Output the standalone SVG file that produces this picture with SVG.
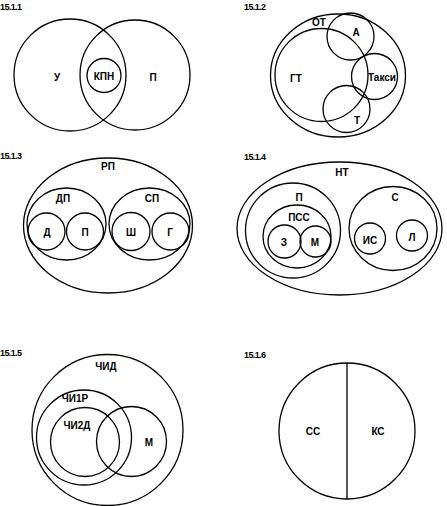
<svg xmlns="http://www.w3.org/2000/svg" width="447" height="506" viewBox="0 0 447 506">
<style>
.c{fill:none;stroke:#000;stroke-width:1.3}
.t{font-family:"Liberation Sans",Arial,sans-serif;font-weight:bold;font-size:10px;text-anchor:middle;dominant-baseline:central;fill:#000}
.h{font-family:"Liberation Sans",Arial,sans-serif;font-weight:bold;font-size:9px;letter-spacing:-0.6px;fill:#000}
</style>
<rect width="447" height="506" fill="#fff"/>
<g id="titles">
<text class="h" x="0" y="10">15.1.1</text>
<text class="h" x="244" y="10">15.1.2</text>
<text class="h" x="0" y="159">15.1.3</text>
<text class="h" x="244" y="160">15.1.4</text>
<text class="h" x="0" y="356">15.1.5</text>
<text class="h" x="244" y="358">15.1.6</text>
</g>
<g id="p1">
<g id="p1-u"><circle class="c" cx="70" cy="75" r="56"/><text class="t" x="57" y="77">У</text></g>
<g id="p1-p"><circle class="c" cx="135" cy="75" r="55"/><text class="t" x="153" y="77">П</text></g>
<g id="p1-kpn"><circle class="c" cx="104" cy="75.5" r="17"/><text class="t" x="104" y="76">КПН</text></g>
</g>
<g id="p2">
<g id="p2-ot"><ellipse class="c" cx="338" cy="75.5" rx="67.5" ry="61.5"/><text class="t" x="319" y="22">ОТ</text></g>
<g id="p2-gt"><circle class="c" cx="321.5" cy="75" r="46.5"/><text class="t" x="296" y="78">ГТ</text></g>
<g id="p2-a"><circle class="c" cx="350.5" cy="36.5" r="23.5"/><text class="t" x="356" y="32">А</text></g>
<g id="p2-taxi"><circle class="c" cx="374.5" cy="76.5" r="23"/><text class="t" x="382" y="77">Такси</text></g>
<g id="p2-t"><circle class="c" cx="346.5" cy="109" r="23.5"/><text class="t" x="357" y="120">Т</text></g>
</g>
<g id="p3">
<g id="p3-rp"><ellipse class="c" cx="108" cy="225.5" rx="84.5" ry="67.5"/><text class="t" x="108" y="166">РП</text></g>
<g id="p3-dp"><ellipse class="c" cx="66.5" cy="224" rx="39.5" ry="36"/><text class="t" x="63" y="198">ДП</text></g>
<g id="p3-sp"><ellipse class="c" cx="149.5" cy="224" rx="40.5" ry="36"/><text class="t" x="152" y="198">СП</text></g>
<g id="p3-d"><circle class="c" cx="46.5" cy="231.5" r="18.5"/><text class="t" x="47" y="232">Д</text></g>
<g id="p3-p"><circle class="c" cx="85" cy="231.5" r="18.5"/><text class="t" x="85" y="232">П</text></g>
<g id="p3-sh"><circle class="c" cx="131" cy="231.5" r="19"/><text class="t" x="131" y="232">Ш</text></g>
<g id="p3-g"><circle class="c" cx="170.5" cy="231.5" r="18.5"/><text class="t" x="170" y="232">Г</text></g>
</g>
<g id="p4">
<g id="p4-nt"><ellipse class="c" cx="339.5" cy="228.5" rx="102.5" ry="66.5"/><text class="t" x="342" y="172">НТ</text></g>
<g id="p4-p"><circle class="c" cx="293" cy="230.5" r="47.5"/><text class="t" x="299" y="197">П</text></g>
<g id="p4-pss"><ellipse class="c" cx="297" cy="236.5" rx="34" ry="31.5"/><text class="t" x="299" y="217">ПСС</text></g>
<g id="p4-z"><circle class="c" cx="284.5" cy="241.5" r="16.5"/><text class="t" x="284" y="242">З</text></g>
<g id="p4-m"><circle class="c" cx="315.5" cy="241.5" r="15.5"/><text class="t" x="315" y="242">М</text></g>
<g id="p4-s"><ellipse class="c" cx="393" cy="228.5" rx="44" ry="42"/><text class="t" x="395" y="197">С</text></g>
<g id="p4-is"><circle class="c" cx="370" cy="238.5" r="15.5"/><text class="t" x="370" y="240">ИС</text></g>
<g id="p4-l"><circle class="c" cx="412" cy="235.5" r="15.5"/><text class="t" x="412" y="237">Л</text></g>
</g>
<g id="p5">
<g id="p5-chid"><circle class="c" cx="107.5" cy="430" r="75.5"/><text class="t" x="106" y="366">ЧИД</text></g>
<g id="p5-chi1r"><circle class="c" cx="84" cy="437.5" r="47.5"/><text class="t" x="75" y="398">ЧИ1Р</text></g>
<g id="p5-chi2d"><circle class="c" cx="85" cy="442" r="34.5"/><text class="t" x="77" y="425">ЧИ2Д</text></g>
<g id="p5-m"><circle class="c" cx="131.5" cy="441.5" r="35"/><text class="t" x="149" y="442">М</text></g>
</g>
<g id="p6">
<circle class="c" cx="347" cy="431" r="68"/>
<g id="p6-ss"><text class="t" x="313" y="431">СС</text></g>
<g id="p6-ks"><text class="t" x="378" y="431">КС</text></g>
</g>
<g id="connectors">
<line class="c" x1="347" y1="363" x2="347" y2="499"/>
</g>
</svg>
